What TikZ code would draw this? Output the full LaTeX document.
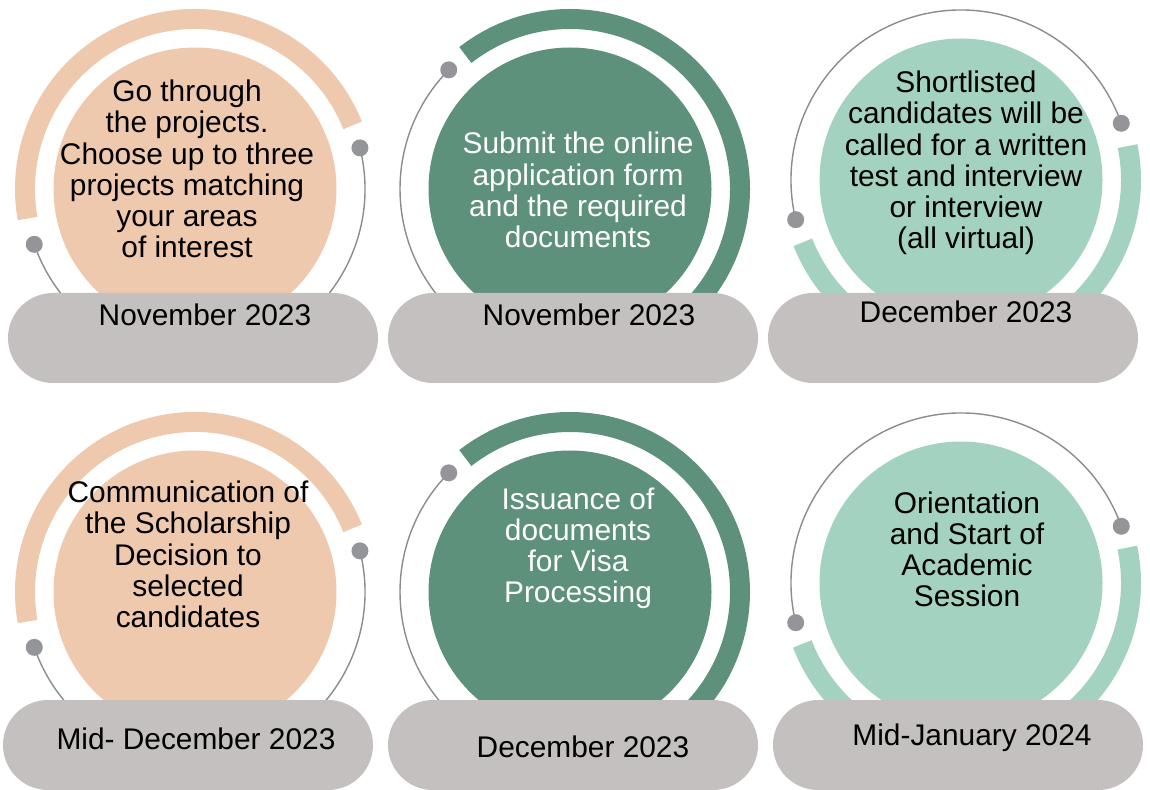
\documentclass[tikz,border=0pt]{standalone}
\usepackage{fontspec}
\setmainfont{Liberation Sans}
\usepackage{tikz}

\definecolor{peach}{RGB}{238,201,174}
\definecolor{darkgreen}{RGB}{93,145,124}
\definecolor{lightgreen}{RGB}{163,211,192}
\definecolor{pillgrey}{RGB}{196,192,191}
\definecolor{dotgrey}{RGB}{147,149,153}
\definecolor{linegrey}{RGB}{140,140,140}

\begin{document}
\begin{tikzpicture}[
		stepcircle/.style={circle, minimum size=5.66cm, inner sep=0pt},
		steptext/.style={align=center, inner sep=0pt, font=\fontsize{17}{17.75}\selectfont},
		pill/.style={rectangle, rounded corners=0.9cm, fill=pillgrey, minimum width=7.4cm, minimum height=1.8cm, inner sep=0pt},
		datetext/.style={anchor=base, inner sep=0pt, font=\fontsize{17}{17.75}\selectfont},
		band/.style={line width=0.4cm},
		thinarc/.style={linegrey, line width=0.8pt},
		knob/.style={dotgrey}
	]
			\useasboundingbox (0, 0) rectangle (23, 15.78);
			
			\node[stepcircle, fill=peach] (c1) at (3.9, 12) {};
			\node[stepcircle, fill=darkgreen] (c2) at (11.4, 12) {};
			\node[stepcircle, fill=lightgreen] (c3) at (19.22, 12.18) {};
			\node[stepcircle, fill=peach] (c4) at (3.9, 3.94) {};
			\node[stepcircle, fill=darkgreen] (c5) at (11.4, 3.94) {};
			\node[stepcircle, fill=lightgreen] (c6) at (19.22, 4.12) {};
			
			\draw[band, peach] ([shift={(22:3.4)}]c1.center) arc[start angle=22, end angle=190, radius=3.4];
			\draw[thinarc] ([shift={(14:3.4)}]c1.center) arc[start angle=14, end angle=-161, radius=3.4];
			\fill[knob] ([shift={(14:3.4)}]c1.center) circle[radius=0.17];
			\fill[knob] ([shift={(199:3.4)}]c1.center) circle[radius=0.17];
			
			\draw[band, darkgreen] ([shift={(128:3.4)}]c2.center) arc[start angle=128, end angle=-90, radius=3.4];
			\draw[thinarc] ([shift={(135.5:3.4)}]c2.center) arc[start angle=135.5, end angle=260, radius=3.4];
			\fill[knob] ([shift={(135.5:3.4)}]c2.center) circle[radius=0.17];
			
			\draw[band, lightgreen] ([shift={(201.5:3.4)}]c3.center) arc[start angle=201.5, end angle=371.5, radius=3.4];
			\draw[thinarc] ([shift={(19.5:3.4)}]c3.center) arc[start angle=19.5, end angle=193.5, radius=3.4];
			\fill[knob] ([shift={(19.5:3.4)}]c3.center) circle[radius=0.17];
			\fill[knob] ([shift={(193.5:3.4)}]c3.center) circle[radius=0.17];
			
			\draw[band, peach] ([shift={(22:3.4)}]c4.center) arc[start angle=22, end angle=190, radius=3.4];
			\draw[thinarc] ([shift={(14:3.4)}]c4.center) arc[start angle=14, end angle=-161, radius=3.4];
			\fill[knob] ([shift={(14:3.4)}]c4.center) circle[radius=0.17];
			\fill[knob] ([shift={(199:3.4)}]c4.center) circle[radius=0.17];
			
			\draw[band, darkgreen] ([shift={(128:3.4)}]c5.center) arc[start angle=128, end angle=-90, radius=3.4];
			\draw[thinarc] ([shift={(135.5:3.4)}]c5.center) arc[start angle=135.5, end angle=260, radius=3.4];
			\fill[knob] ([shift={(135.5:3.4)}]c5.center) circle[radius=0.17];
			
			\draw[band, lightgreen] ([shift={(201:3.4)}]c6.center) arc[start angle=201, end angle=372, radius=3.4];
			\draw[thinarc] ([shift={(19.5:3.4)}]c6.center) arc[start angle=19.5, end angle=193.5, radius=3.4];
			\fill[knob] ([shift={(19.5:3.4)}]c6.center) circle[radius=0.17];
			\fill[knob] ([shift={(193.5:3.4)}]c6.center) circle[radius=0.17];
			
			\node[pill] (p1) at (3.86, 9.02) {};
			\node[pill] (p2) at (11.46, 9.02) {};
			\node[pill] (p3) at (19.06, 9.02) {};
			\node[pill] (p4) at (3.76, 0.88) {};
			\node[pill] (p5) at (11.46, 0.88) {};
			\node[pill] (p6) at (19.16, 0.88) {};
			
			\node[steptext] (t1) at (3.74, 12.4) {Go through\\the projects.\\Choose up to three\\projects matching\\your areas\\of interest};
			\node[steptext, white] (t2) at (11.56, 11.98) {Submit the online\\application form\\and the required\\documents};
			\node[steptext] (t3) at (19.32, 12.52) {Shortlisted\\candidates will be\\called for a written\\test and interview\\or interview\\(all virtual)};
			\node[steptext] (t4) at (3.76, 4.69) {Communication of\\the Scholarship\\Decision to\\selected\\candidates};
			\node[steptext, white] (t5) at (11.56, 4.81) {Issuance of\\documents\\for Visa\\Processing};
			\node[steptext] (t6) at (19.34, 4.79) {Orientation\\and Start of\\Academic\\Session};
			
			\node[datetext] (d1) at (4.1, 9.26) {November 2023};
			\node[datetext] (d2) at (11.78, 9.26) {November 2023};
			\node[datetext] (d3) at (19.32, 9.32) {December 2023};
			\node[datetext] (d4) at (3.92, 0.8) {Mid- December 2023};
			\node[datetext] (d5) at (11.66, 0.64) {December 2023};
			\node[datetext] (d6) at (19.44, 0.88) {Mid-January 2024};
		\end{tikzpicture}
\end{document}
